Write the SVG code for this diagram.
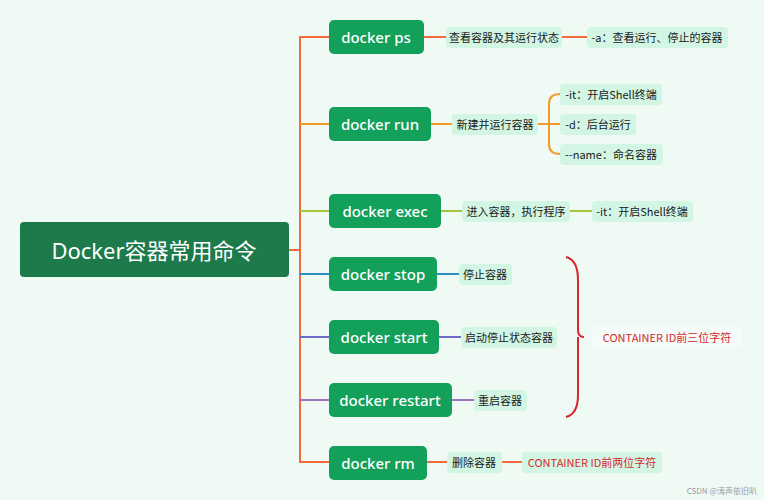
<svg xmlns="http://www.w3.org/2000/svg" width="764" height="500" viewBox="0 0 764 500">
<style>
.m rect{fill:#13a05b;rx:5}
.m text{fill:#fff;font:500 15px "Noto Sans",sans-serif;text-anchor:middle;dominant-baseline:central}
.s rect{fill:#d3f6e4;rx:4}
.s text{fill:#1a1a1a;font:11px "Noto Sans CJK SC",sans-serif;text-anchor:middle;dominant-baseline:central}
.r text{fill:#d8262c}
.c path{fill:none;stroke-width:2}
</style>
<rect width="764" height="500" fill="#effaf5"/>
<g class="c" id="connectors">
<path d="M289 250H300M300 250V37H329" stroke="#f36b3b"/>
<path d="M300 250V462H329" stroke="#f36b3b"/>
<path d="M300 124H329" stroke="#f39a2a"/>
<path d="M300 211H329" stroke="#a9c43a"/>
<path d="M300 274H329" stroke="#2b8fc0"/>
<path d="M300 337H329" stroke="#6b6bc8"/>
<path d="M300 400H329" stroke="#9b73b8"/>
<path d="M424 37H446M562 37H587" stroke="#f36b3b"/>
<path d="M431 124H452M538 124H560M560 94Q549 94 549 104V144Q549 154 560 154" stroke="#f39a2a"/>
<path d="M441 211H462M570 211H592" stroke="#a9c43a"/>
<path d="M437 274H459" stroke="#2b8fc0"/>
<path d="M439 337H461" stroke="#6b6bc8"/>
<path d="M452 400H474" stroke="#9b73b8"/>
<path d="M427 462H447M502 462H522" stroke="#f36b3b"/>
<path d="M566 257Q578 260 578 280V330Q578 337 584 337M578 337Q578 344 578 350V395Q578 414 566 417" stroke="#d8262c" stroke-width="1.5"/>
</g>
<g id="root"><rect x="20" y="222" width="269" height="55" rx="4" fill="#1c7a4b"/><text x="154" y="250" fill="#fff" font-family="Noto Sans,Noto Sans CJK SC,sans-serif" font-size="22" text-anchor="middle" dominant-baseline="central">Docker容器常用命令</text></g>
<g id="n-ps" class="m"><rect x="329" y="20" width="95" height="34"/><text x="376" y="37">docker ps</text></g>
<g id="n-run" class="m"><rect x="329" y="107" width="102" height="34"/><text x="380" y="124">docker run</text></g>
<g id="n-exec" class="m"><rect x="329" y="194" width="112" height="34"/><text x="385" y="211">docker exec</text></g>
<g id="n-stop" class="m"><rect x="329" y="257" width="108" height="34"/><text x="383" y="274">docker stop</text></g>
<g id="n-start" class="m"><rect x="329" y="320" width="110" height="34"/><text x="384" y="337">docker start</text></g>
<g id="n-restart" class="m"><rect x="329" y="383" width="123" height="34"/><text x="390" y="400">docker restart</text></g>
<g id="n-rm" class="m"><rect x="329" y="446" width="98" height="34"/><text x="378" y="463">docker rm</text></g>
<g id="s-ps" class="s"><rect x="446" y="27" width="116" height="21"/><text x="504" y="37">查看容器及其运行状态</text></g>
<g id="s-ps-a" class="s"><rect x="587" y="27" width="141" height="21"/><text x="657" y="37">-a：查看运行、停止的容器</text></g>
<g id="s-run" class="s"><rect x="452" y="114" width="86" height="21"/><text x="495" y="124">新建并运行容器</text></g>
<g id="s-run-it" class="s"><rect x="560" y="84" width="102" height="21"/><text x="611" y="94">-it：开启Shell终端</text></g>
<g id="s-run-d" class="s"><rect x="560" y="114" width="76" height="21"/><text x="598" y="124">-d：后台运行</text></g>
<g id="s-run-name" class="s"><rect x="560" y="144" width="103" height="21"/><text x="611" y="154">--name：命名容器</text></g>
<g id="s-exec" class="s"><rect x="462" y="201" width="108" height="21"/><text x="516" y="211">进入容器，执行程序</text></g>
<g id="s-exec-it" class="s"><rect x="592" y="201" width="101" height="21"/><text x="642" y="211">-it：开启Shell终端</text></g>
<g id="s-stop" class="s"><rect x="459" y="264" width="53" height="21"/><text x="485" y="274">停止容器</text></g>
<g id="s-start" class="s"><rect x="461" y="327" width="96" height="21"/><text x="509" y="337">启动停止状态容器</text></g>
<g id="s-restart" class="s"><rect x="474" y="390" width="53" height="21"/><text x="500" y="400">重启容器</text></g>
<g id="s-rm" class="s"><rect x="447" y="452" width="55" height="21"/><text x="474" y="462">删除容器</text></g>
<g id="s-rm-id" class="s r"><rect x="522" y="452" width="140" height="21"/><text x="592" y="462">CONTAINER ID前两位字符</text></g>
<g id="s-id3" class="s r"><rect x="592" y="326" width="150" height="22" fill="#f3fbf7" style="fill:#f4fbf8"/><text x="667" y="337">CONTAINER ID前三位字符</text></g>
<text x="757" y="494" fill="#999" font-family="Noto Sans CJK SC,sans-serif" font-size="8" text-anchor="end">CSDN @涛声依旧叭</text>
</svg>
